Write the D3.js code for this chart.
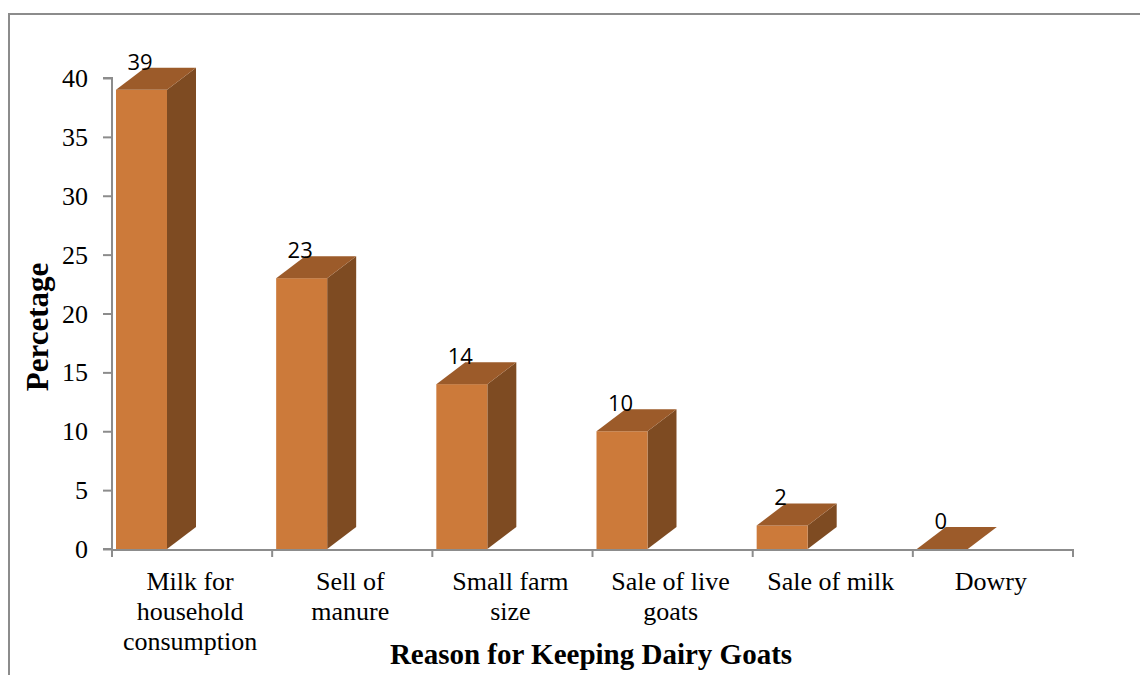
<!DOCTYPE html>
<html><head><meta charset="utf-8">
<script src="https://cdn.jsdelivr.net/npm/d3@7/dist/d3.min.js"></script>
<style>html,body{margin:0;padding:0;background:#fff}</style>
</head><body>
<svg id="chart" width="1140" height="675"></svg>
<script>
const categories = [["Milk for","household","consumption"],["Sell of","manure"],["Small farm","size"],["Sale of live","goats"],["Sale of milk"],["Dowry"]];
const values = [39, 23, 14, 10, 2, 0];
const yTicks = [0,5,10,15,20,25,30,35,40];

const svg = d3.select("#chart");
const W = 1140, H = 675;
const serif = "'Liberation Serif','Times New Roman',serif";
svg.append("rect").attr("x",0).attr("y",0).attr("width",W).attr("height",H).attr("fill","#fff");
// frame
svg.append("path").attr("d","M9,676 L9,14 L1141,14").attr("fill","none").attr("stroke","#8c8c8c").attr("stroke-width",2);

const x0 = 112, x1 = 1073, y0 = 549, y1 = 78;
const x = d3.scaleBand().domain(d3.range(categories.length)).range([x0, x1]).paddingInner(0).paddingOuter(0);
const y = d3.scaleLinear().domain([0,40]).range([y0, y1]);
const dx = 29, dy = -22, bw = 51, off = 4;

// y axis
const ya = svg.append("g").attr("transform",`translate(${x0},0)`)
  .call(d3.axisLeft(y).tickValues(yTicks).tickSize(9).tickPadding(9));
ya.select(".domain").attr("stroke","#8c8c8c").attr("stroke-width",2).attr("d",`M-9,${y1}H0V${y0}H-9`);
ya.selectAll(".tick line").attr("stroke","#8c8c8c").attr("stroke-width",2);
ya.selectAll("text").attr("font-family",serif).attr("font-size",26).attr("fill","#000").attr("dy","0.33em").attr("dx","-6");

// x axis
svg.append("line").attr("x1",x0).attr("x2",x1).attr("y1",y0+1).attr("y2",y0+1).attr("stroke","#8c8c8c").attr("stroke-width",2);
const bounds = d3.range(categories.length+1).map(i => i < categories.length ? x(i) : x1);
svg.selectAll(".xt").data(bounds).enter().append("line")
  .attr("x1",d=>d).attr("x2",d=>d).attr("y1",y0).attr("y2",y0+8).attr("stroke","#8c8c8c").attr("stroke-width",2);

// bars
const g = svg.append("g");
values.forEach((v,i) => {
  const L = x(i)+off, R = L + bw, T = y(v), B = y0;
  g.append("path").attr("d",`M${R},${B}L${R+dx},${B+dy}L${R+dx},${T+dy}L${R},${T}Z`).attr("fill","#7e4b22");
  if (v > 0) g.append("rect").attr("x",L).attr("y",T).attr("width",bw).attr("height",B-T).attr("fill","#cc7a3a");
  g.append("path").attr("d",`M${L},${T}L${L+dx},${T+dy}L${R+dx},${T+dy}L${R},${T}Z`).attr("fill","#9c5b2a");
  g.append("text").attr("x",L+24).attr("y",T+dy+2).attr("text-anchor","middle")
    .attr("font-family","'Open Sans','Liberation Sans',sans-serif").attr("font-size",22).attr("fill","#000").text(v);
});

// category labels
categories.forEach((lines,i) => {
  const cx = x(i) + x.bandwidth()/2 - 2;
  const t = svg.append("text").attr("x",cx).attr("y",590).attr("text-anchor","middle")
    .attr("font-family",serif).attr("font-size",26).attr("fill","#000");
  lines.forEach((l,j) => t.append("tspan").attr("x",cx).attr("dy", j===0?0:30).text(l));
});

// axis titles
svg.append("text").attr("x",591).attr("y",664).attr("text-anchor","middle")
  .attr("font-family",serif).attr("font-size",29).attr("font-weight","bold").text("Reason for Keeping Dairy Goats");
svg.append("text").attr("transform","translate(48,327) rotate(-90)").attr("text-anchor","middle")
  .attr("font-family",serif).attr("font-size",31).attr("font-weight","bold").text("Percetage");
</script>
</body></html>
